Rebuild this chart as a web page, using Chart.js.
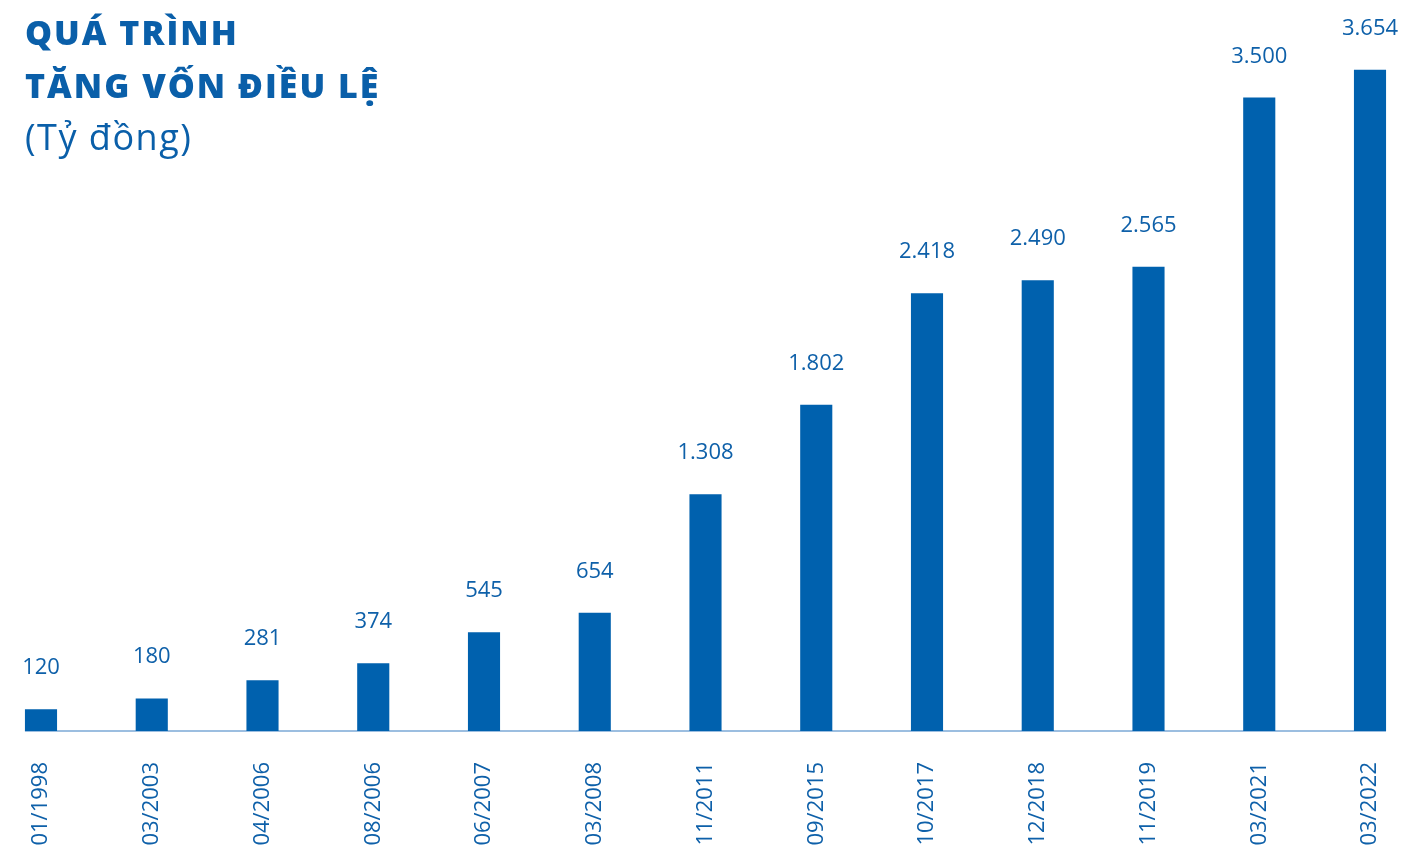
<!DOCTYPE html>
<html>
<head>
<meta charset="utf-8">
<script src="https://cdn.jsdelivr.net/npm/chart.js@4/dist/chart.umd.min.js"></script>
<style>
  body { margin: 0; background: #fff; }
  #wrap { position: relative; width: 1404px; height: 850px; overflow: hidden; }
  #title { position: absolute; left: 25px; top: 6px; color: #0a5fa9; font-family: "Open Sans", sans-serif; z-index: 2; }
  #title .t { font-weight: 800; font-size: 34px; line-height: 53px; letter-spacing: 2px; }
  #title .u { font-weight: 400; font-size: 36px; line-height: 48px; letter-spacing: 1.5px; margin-top: 1px; }
</style>
</head>
<body>
<div id="wrap">
  <div id="title">
    <div class="t">QUÁ TRÌNH</div>
    <div class="t">TĂNG VỐN ĐIỀU LỆ</div>
    <div class="u">(Tỷ đồng)</div>
  </div>
  <canvas id="chart"></canvas>
</div>
<script>
// Capital increase history (billion VND)
const categories = ['01/1998', '03/2003', '04/2006', '08/2006', '06/2007', '03/2008', '11/2011',
  '09/2015', '10/2017', '12/2018', '11/2019', '03/2021', '03/2022'];
const capital = [120, 180, 281, 374, 545, 654, 1308, 1802, 2418, 2490, 2565, 3500, 3654];

const BLUE = '#0061ae';
const TEXT = '#0e60a9';

function fmt(v) {
  return String(v).replace(/\B(?=(\d{3})+(?!\d))/g, '.');
}

// thin baseline under the bars, from first bar's left edge to last bar's right edge
const baseLine = {
  id: 'baseLine',
  beforeDatasetsDraw(chart) {
    const bars = chart.getDatasetMeta(0).data;
    if (!bars.length) return;
    const y = chart.scales.y.getPixelForValue(0);
    const first = bars[0], last = bars[bars.length - 1];
    const { ctx } = chart;
    ctx.save();
    ctx.strokeStyle = '#3b7fc1';
    ctx.lineWidth = 1.2;
    ctx.beginPath();
    ctx.moveTo(first.x - first.width / 2, y);
    ctx.lineTo(last.x + last.width / 2, y);
    ctx.stroke();
    ctx.restore();
  }
};

// value above each bar
const valueLabels = {
  id: 'valueLabels',
  afterDatasetsDraw(chart) {
    const { ctx } = chart;
    const ds = chart.data.datasets[0];
    ctx.save();
    ctx.font = '22px "Open Sans", sans-serif';
    ctx.fillStyle = TEXT;
    ctx.textAlign = 'center';
    ctx.textBaseline = 'alphabetic';
    chart.getDatasetMeta(0).data.forEach((bar, i) => {
      ctx.fillText(fmt(ds.data[i]), bar.x, bar.y - 35);
    });
    ctx.restore();
  }
};

new Chart(document.getElementById('chart'), {
  type: 'bar',
  data: {
    labels: categories,
    datasets: [{
      data: capital,
      backgroundColor: BLUE,
      borderWidth: 0,
      categoryPercentage: 1,
      barPercentage: 0.29,
      clip: false
    }]
  },
  options: {
    responsive: true,
    maintainAspectRatio: false,
    animation: false,
    layout: { padding: { left: 41, right: 34, top: 7, bottom: 0 } },
    plugins: {
      legend: { display: false },
      tooltip: { enabled: false }
    },
    scales: {
      x: {
        offset: false,
        grid: { display: false, drawTicks: false },
        border: { display: false },
        afterFit(scale) {
          scale.height = 119;
          // labels are allowed to sit on the padding; don't let them shrink the plot
          scale.paddingLeft = 0;
          scale.paddingRight = 0;
        },
        ticks: {
          autoSkip: false,
          minRotation: 90,
          maxRotation: 90,
          padding: 31,
          color: TEXT,
          font: { family: '"Open Sans", sans-serif', size: 22 }
        }
      },
      y: {
        display: false,
        min: 0,
        max: 4000
      }
    }
  },
  plugins: [baseLine, valueLabels]
});
</script>
</body>
</html>
